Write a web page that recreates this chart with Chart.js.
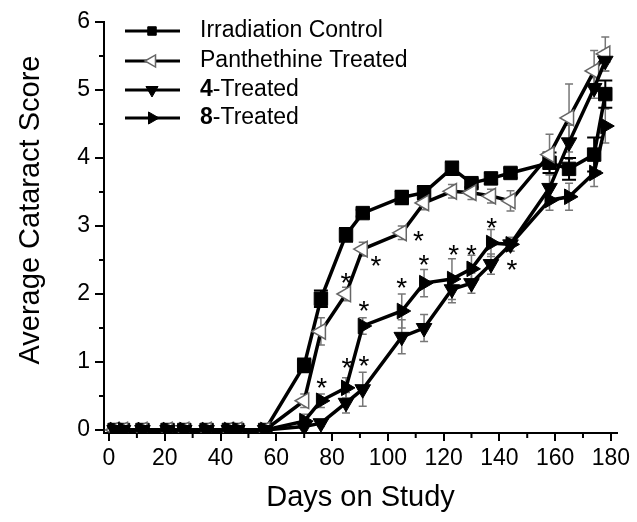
<!DOCTYPE html>
<html>
<head>
<meta charset="utf-8">
<title>Average Cataract Score</title>
<script src="https://cdn.jsdelivr.net/npm/chart.js@4.4.1/dist/chart.umd.min.js"></script>
<style>
  html, body { margin: 0; padding: 0; background: #fff; }
  #wrap { width: 637px; height: 522px; }
</style>
</head>
<body>
<div id="wrap"><canvas id="myChart" width="637" height="522"></canvas></div>
<script>
// days on which the lenses were scored
const days = [2, 5, 12, 21, 27, 35, 43, 46, 56, 70, 76, 85, 91, 105, 113, 123, 130, 137, 144, 158, 165, 174, 178];

// mean scores
const controlScore = [0, 0, 0, 0, 0, 0, 0, 0, 0, 0.95, 1.93, 2.87, 3.19, 3.42, 3.49, 3.85, 3.63, 3.70, 3.78, 3.93, 3.84, 4.05, 4.94];
const panthScore   = [0, 0, 0, 0, 0, 0, 0, 0, 0, 0.43, 1.45, 2.00, 2.66, 2.90, 3.34, 3.51, 3.49, 3.44, 3.37, 4.05, 4.59, 5.28, 5.53];
const cmpd4Score   = [0, 0, 0, 0, 0, 0, 0, 0, 0, 0.05, 0.10, 0.40, 0.60, 1.37, 1.50, 2.07, 2.16, 2.44, 2.73, 3.56, 4.23, 5.03, 5.43];
const cmpd8Score   = [0, 0, 0, 0, 0, 0, 0, 0, 0, 0.13, 0.43, 0.62, 1.53, 1.75, 2.16, 2.22, 2.37, 2.75, 2.73, 3.38, 3.43, 3.78, 4.47];

// standard errors
const controlErr = [0, 0, 0, 0, 0, 0, 0, 0, 0, 0.10, 0.12, 0.10, 0.05, 0.10, 0.10, 0.10, 0.06, 0.08, 0.07, 0.15, 0.16, 0.25, 0.20];
const panthErr   = [0, 0, 0, 0, 0, 0, 0, 0, 0, 0.10, 0.20, 0.10, 0.10, 0.10, 0.10, 0.10, 0.10, 0.10, 0.15, 0.30, 0.50, 0.30, 0.25];
const cmpd4Err   = [0, 0, 0, 0, 0, 0, 0, 0, 0, 0.05, 0.05, 0.15, 0.25, 0.25, 0.20, 0.20, 0.15, 0.15, 0.10, 0.20, 0.25, 0.15, 0.15];
const cmpd8Err   = [0, 0, 0, 0, 0, 0, 0, 0, 0, 0.10, 0.10, 0.15, 0.12, 0.25, 0.20, 0.30, 0.20, 0.20, 0.10, 0.15, 0.20, 0.20, 0.25];

// significance marks (*)
const starDays   = [76.3, 85, 95.7, 111, 91.4, 105, 113, 85.3, 91.4, 123.6, 130, 137.3, 144.5];
const starScores = [0.72, 2.26, 2.51, 2.88, 1.85, 2.19, 2.53, 1.01, 1.04, 2.68, 2.68, 3.07, 2.46];

const xTicks = [0, 20, 40, 60, 80, 100, 120, 140, 160, 180];
const xMinorTicks = [10, 30, 50, 70, 90, 110, 130, 150, 170];
const yTicks = [0, 1, 2, 3, 4, 5, 6];
const yMinorTicks = [0.5, 1.5, 2.5, 3.5, 4.5, 5.5];

// legend rows, top to bottom
const legendSeries = ["control", "panth", "cmpd4", "cmpd8"];
const legendBold = ["", "", "4", "8"];
const legendText = ["Irradiation Control", "Panthethine Treated", "-Treated", "-Treated"];

const FONT = "'Liberation Sans', Arial, sans-serif";
Chart.defaults.font.family = FONT;
Chart.defaults.color = "#000";

const toPoints = (vals) => days.map((d, i) => ({ x: d, y: vals[i] }));

const extras = {
  id: "extras",
  beforeDatasetsDraw(chart) {
    const ctx = chart.ctx;
    const xs = chart.scales.x, ys = chart.scales.y;
    chart.data.datasets.forEach((ds) => {
      ctx.save();
      ctx.strokeStyle = ds.errColor;
      ctx.lineWidth = ds.errWidth;
      ds.data.forEach((p, j) => {
        const e = ds.errors[j];
        if (!e) return;
        const px = xs.getPixelForValue(p.x);
        const top = ys.getPixelForValue(p.y + e);
        const bot = ys.getPixelForValue(p.y - e);
        ctx.beginPath();
        ctx.moveTo(px, top); ctx.lineTo(px, bot);
        ctx.moveTo(px - ds.capHalf, top); ctx.lineTo(px + ds.capHalf, top);
        ctx.moveTo(px - ds.capHalf, bot); ctx.lineTo(px + ds.capHalf, bot);
        ctx.stroke();
      });
      ctx.restore();
    });
  },
  afterDatasetsDraw(chart) {
    const ctx = chart.ctx;
    const xs = chart.scales.x, ys = chart.scales.y;
    ctx.save();
    ctx.fillStyle = "#000";
    ctx.font = "28px " + FONT;
    ctx.textAlign = "center";
    ctx.textBaseline = "alphabetic";
    starDays.forEach((d, i) => {
      ctx.fillText("*", xs.getPixelForValue(d), ys.getPixelForValue(starScores[i]) + 16);
    });
    ctx.restore();
  },
  afterDraw(chart) {
    const ctx = chart.ctx;
    const xs = chart.scales.x, ys = chart.scales.y;
    const area = chart.chartArea;
    ctx.save();
    // minor ticks
    ctx.strokeStyle = "#000";
    ctx.lineWidth = 2;
    ctx.beginPath();
    xMinorTicks.forEach((v) => {
      const px = xs.getPixelForValue(v);
      ctx.moveTo(px, area.bottom); ctx.lineTo(px, area.bottom + 5);
    });
    yMinorTicks.forEach((v) => {
      const py = ys.getPixelForValue(v);
      ctx.moveTo(area.left - 5, py); ctx.lineTo(area.left, py);
    });
    ctx.stroke();

    // y axis title
    ctx.save();
    ctx.translate(31, 210);
    ctx.rotate(-Math.PI / 2);
    ctx.font = "29px " + FONT;
    ctx.fillStyle = "#000";
    ctx.textAlign = "center";
    ctx.textBaseline = "middle";
    ctx.fillText("Average Cataract Score", 0, 0);
    ctx.restore();

    // legend
    const rows = [31, 61, 90, 118];
    legendSeries.forEach((key, i) => {
      const ds = chart.data.datasets.find((d) => d.key === key);
      const ry = rows[i];
      ctx.strokeStyle = "#000";
      ctx.lineWidth = 3;
      ctx.beginPath();
      ctx.moveTo(125, ry); ctx.lineTo(180, ry);
      ctx.stroke();
      ctx.fillStyle = ds.pointBackgroundColor;
      ctx.strokeStyle = ds.pointBorderColor;
      ctx.lineWidth = ds.pointBorderWidth;
      Chart.helpers.drawPoint(ctx, {
        pointStyle: ds.pointStyle,
        rotation: ds.pointRotation,
        radius: ds.pointStyle === "rect" ? 6 : 7,
        borderWidth: ds.pointBorderWidth
      }, 152, ry);

      ctx.fillStyle = "#000";
      ctx.textAlign = "left";
      ctx.textBaseline = "middle";
      let tx = 200;
      if (legendBold[i]) {
        ctx.font = "bold 23px " + FONT;
        ctx.fillText(legendBold[i], tx, ry);
        tx += ctx.measureText(legendBold[i]).width;
      }
      ctx.font = "23px " + FONT;
      ctx.fillText(legendText[i], tx, ry);
    });
    ctx.restore();
  }
};

const ctx = document.getElementById("myChart").getContext("2d");
const chart = new Chart(ctx, {
  type: "line",
  data: {
    datasets: [
      {
        key: "cmpd8",
        label: "8-Treated",
        data: toPoints(cmpd8Score),
        errors: cmpd8Err,
        errColor: "#777",
        errWidth: 1.5,
        capHalf: 4,
        borderColor: "#000",
        borderWidth: 3.5,
        pointStyle: "triangle",
        pointRotation: 90,
        pointRadius: 9,
        pointBackgroundColor: "#000",
        pointBorderColor: "#000",
        pointBorderWidth: 1
      },
      {
        key: "cmpd4",
        label: "4-Treated",
        data: toPoints(cmpd4Score),
        errors: cmpd4Err,
        errColor: "#777",
        errWidth: 1.5,
        capHalf: 4,
        borderColor: "#000",
        borderWidth: 3.5,
        pointStyle: "triangle",
        pointRotation: 180,
        pointRadius: 9,
        pointBackgroundColor: "#000",
        pointBorderColor: "#000",
        pointBorderWidth: 1
      },
      {
        key: "panth",
        label: "Panthethine Treated",
        data: toPoints(panthScore),
        errors: panthErr,
        errColor: "#777",
        errWidth: 1.5,
        capHalf: 4,
        borderColor: "#000",
        borderWidth: 3.5,
        pointStyle: "triangle",
        pointRotation: -90,
        pointRadius: 9,
        pointBackgroundColor: "#fff",
        pointBorderColor: "#666",
        pointBorderWidth: 1.5
      },
      {
        key: "control",
        label: "Irradiation Control",
        data: toPoints(controlScore),
        errors: controlErr,
        errColor: "#000",
        errWidth: 2,
        capHalf: 7,
        borderColor: "#000",
        borderWidth: 3.5,
        pointStyle: "rect",
        pointRadius: 9.5,
        pointBackgroundColor: "#000",
        pointBorderColor: "#000",
        pointBorderWidth: 1
      }
    ]
  },
  options: {
    responsive: false,
    animation: false,
    devicePixelRatio: 1,
    layout: { padding: { top: 22, right: 20, left: 0, bottom: 0 } },
    plugins: {
      legend: { display: false },
      tooltip: { enabled: false }
    },
    scales: {
      x: {
        type: "linear",
        min: -1.8,
        max: 182.2,
        afterBuildTicks: (scale) => { scale.ticks = xTicks.map((v) => ({ value: v })); },
        afterFit: (scale) => { scale.height = 89; },
        grid: { drawOnChartArea: false, drawTicks: true, tickLength: 8, color: "#000", lineWidth: 2 },
        border: { display: true, color: "#000", width: 2 },
        ticks: { font: { size: 23 }, color: "#000", padding: 4, maxRotation: 0 },
        title: {
          display: true,
          text: "Days on Study",
          font: { size: 29 },
          color: "#000",
          padding: { top: 0, bottom: 7 }
        }
      },
      y: {
        min: -0.044,
        max: 6,
        afterBuildTicks: (scale) => { scale.ticks = yTicks.map((v) => ({ value: v })); },
        afterFit: (scale) => { scale.width = 104; },
        grid: { drawOnChartArea: false, drawTicks: true, tickLength: 9, color: "#000", lineWidth: 2 },
        border: { display: true, color: "#000", width: 2 },
        ticks: { font: { size: 23 }, color: "#000", padding: 5 }
      }
    }
  },
  plugins: [extras]
});
</script>
</body>
</html>
